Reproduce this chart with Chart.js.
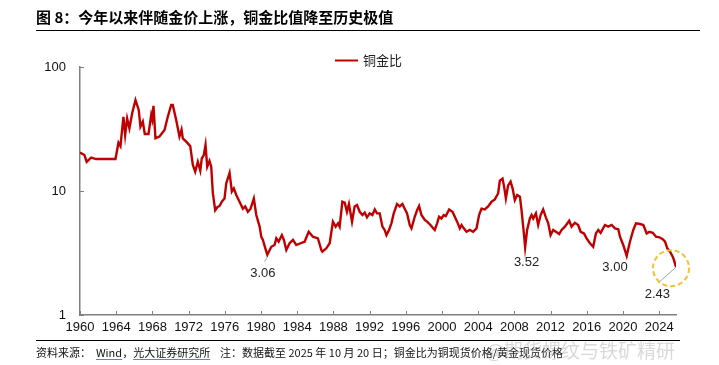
<!DOCTYPE html>
<html><head><meta charset="utf-8">
<script src="https://cdn.jsdelivr.net/npm/chart.js@4.4.0/dist/chart.umd.min.js"></script>
<style>
html,body{margin:0;padding:0;background:#fff;}
#wrap{position:relative;width:719px;height:365px;overflow:hidden;font-family:"Noto Sans CJK SC",sans-serif;}
#c{position:absolute;left:0;top:0;}
#title{position:absolute;left:36px;top:7px;font-size:15px;font-weight:bold;color:#000;white-space:nowrap;line-height:20px;}
#tline{position:absolute;left:36px;top:30px;width:664px;height:0;border-top:1.5px solid #000;}
#fline{position:absolute;left:36px;top:340px;width:644px;height:0;border-top:1px solid #000;}
#foot{position:absolute;left:36px;top:344px;font-size:11px;color:#111;white-space:nowrap;line-height:16px;}
.u{text-decoration:underline;text-decoration-color:#2f9fc0;text-underline-offset:2px;}
#wm{position:absolute;left:486px;top:336px;font-size:19px;color:rgba(160,160,160,0.4);white-space:nowrap;}
</style></head>
<body>
<div id="wrap">
<canvas id="c" width="719" height="365"></canvas>
<div id="title">图 8：今年以来伴随金价上涨，铜金比值降至历史极值</div>
<div id="tline"></div>
<div id="fline"></div>
<div id="foot">资料来源：&nbsp;&nbsp;<span class="u">Wind</span>，<span class="u">光大证券研究所</span>&nbsp;&nbsp;&nbsp;&nbsp;注：数据截至 2025 年 10 月 20 日；铜金比为铜现货价格/黄金现货价格</div>
<div id="wm">@期货螺纹与铁矿精研</div>
</div>
<script>
const seriesName = '铜金比';
const years = [1960.0,1960.49,1960.74,1961.23,1961.78,1963.92,1964.25,1964.47,1964.8,1964.99,1965.21,1965.46,1965.76,1966.13,1966.49,1966.68,1966.94,1967.16,1967.57,1967.87,1967.98,1968.12,1968.34,1968.78,1969.34,1969.7,1970.08,1970.25,1970.63,1970.99,1971.22,1971.36,1971.74,1972.18,1972.47,1972.73,1973.02,1973.29,1973.46,1973.68,1973.87,1974.06,1974.31,1974.5,1974.68,1974.94,1975.17,1975.42,1975.67,1975.97,1976.16,1976.53,1976.78,1977.0,1977.27,1977.63,1978.0,1978.26,1978.55,1978.85,1979.21,1979.48,1979.85,1980.03,1980.21,1980.48,1980.7,1981.14,1981.5,1981.69,1981.95,1982.31,1982.53,1982.8,1983.16,1983.53,1983.9,1984.38,1984.82,1985.27,1985.74,1986.29,1986.67,1986.78,1987.22,1987.59,1987.95,1988.25,1988.51,1988.69,1988.99,1989.25,1989.5,1989.72,1990.06,1990.35,1990.61,1990.91,1991.21,1991.46,1991.71,1992.01,1992.31,1992.57,1992.82,1993.12,1993.42,1993.67,1993.86,1994.15,1994.41,1994.67,1995.03,1995.33,1995.63,1995.88,1996.14,1996.44,1996.63,1996.99,1997.25,1997.47,1997.73,1998.1,1998.35,1998.73,1999.02,1999.2,1999.46,1999.68,1999.94,2000.2,2000.42,2000.79,2001.16,2001.42,2001.67,2001.97,2002.16,2002.41,2002.71,2003.07,2003.44,2003.82,2004.1,2004.37,2004.73,2005.1,2005.48,2005.84,2006.21,2006.39,2006.69,2006.87,2007.06,2007.31,2007.58,2007.8,2008.05,2008.31,2008.61,2008.79,2009.05,2009.19,2009.41,2009.71,2009.9,2010.08,2010.38,2010.63,2010.9,2011.18,2011.48,2011.74,2012.0,2012.29,2012.59,2012.95,2013.22,2013.58,2014.06,2014.32,2014.69,2015.05,2015.32,2015.69,2015.98,2016.35,2016.71,2017.01,2017.27,2017.53,2018.01,2018.37,2018.75,2019.12,2019.48,2019.67,2020.03,2020.41,2020.77,2021.14,2021.44,2021.88,2022.25,2022.62,2022.91,2023.29,2023.65,2024.02,2024.39,2024.65,2024.9,2025.2,2025.5,2025.64,2025.86];
const ratio = [20.4,19.5,17.2,18.6,18.1,18.1,24.5,23,39.7,28.3,38.5,32,42.2,54.2,45,33,36.3,28.8,28.8,41,37.9,48.6,26.6,27.5,31,39.7,49.5,49.5,37.4,27.5,31.3,26.6,25,23,16.2,14.3,17.2,14.6,18.3,19.5,23.5,15.7,17.5,15.7,9.6,7.0,7.4,7.57,8.2,8.7,11.5,14.0,9.9,10.5,9.3,8.2,7.2,7.5,6.8,7.2,8.7,6.4,5.16,4.28,4.03,3.45,3.06,3.55,3.67,4.15,3.9,4.41,4.03,3.34,3.79,4.03,3.67,3.79,3.9,4.69,4.28,4.15,3.34,3.24,3.45,3.79,5.66,5.16,5.49,5.16,8.2,8.05,6.8,7.85,5.66,7.5,7.7,6.8,6.4,6.7,6.13,6.6,6.4,7.1,6.6,6.6,5.16,4.85,4.41,4.85,5.49,6.6,7.85,7.5,7.85,7.2,6.6,5.32,5.0,6.2,7.0,7.57,6.4,5.85,5.66,5.32,5.0,4.85,5.49,6.2,6.0,6.4,6.27,7.1,6.8,6.2,5.66,5.0,5.32,5.0,4.69,4.85,4.69,5.0,6.4,7.2,7.1,7.5,8.2,8.55,9.6,12.1,12.6,10.8,8.7,11.1,11.9,10.5,8.45,9.3,9.0,7.0,4.55,3.52,4.85,6.0,6.4,6.0,6.6,5.32,6.4,7.1,6.13,5.49,4.41,4.85,4.69,4.5,4.85,5.16,5.76,5.16,5.54,5.32,4.69,4.55,4.15,3.79,3.55,4.55,4.85,4.6,5.32,5.16,5.32,5.0,4.91,4.28,3.67,3.00,3.9,4.85,5.49,5.42,5.32,4.55,4.69,4.6,4.28,4.23,4.08,3.9,3.45,3.24,2.95,2.77,2.43];
const tickYears = [1960,1964,1968,1972,1976,1980,1984,1988,1992,1996,2000,2004,2008,2012,2016,2020,2024];
const yTicks = [1,10,100];
const annYears = [1980.7,2009.19,2020.41,2025.86];
const annValues = [3.06,3.52,3.00,2.43];
const annLabels = ['3.06','3.52','3.00','2.43'];

const RED = '#C00000';
const AXIS = '#808080';
const LBL_FONT = {family:'"Liberation Sans", Arial, sans-serif', size:13};

const decor = {
  id:'decor',
  afterDraw(chart){
    const ctx = chart.ctx, xs = chart.scales.x, ys = chart.scales.y, ca = chart.chartArea;
    ctx.save();
    ctx.strokeStyle = AXIS; ctx.lineWidth = 1;
    xs.ticks.forEach(t=>{const px=Math.round(xs.getPixelForValue(t.value))+0.5;ctx.beginPath();ctx.moveTo(px,ca.bottom);ctx.lineTo(px,ca.bottom-4);ctx.stroke();});
    ys.ticks.forEach(t=>{const py=Math.round(ys.getPixelForValue(t.value))+0.5;ctx.beginPath();ctx.moveTo(ca.left,py);ctx.lineTo(ca.left+4,py);ctx.stroke();});
    ctx.strokeStyle = RED; ctx.lineWidth = 2;
    ctx.beginPath(); ctx.moveTo(335,60.5); ctx.lineTo(358,60.5); ctx.stroke();
    ctx.fillStyle = '#222'; ctx.font = '13px "Noto Sans CJK SC", sans-serif';
    ctx.textBaseline = 'middle'; ctx.textAlign = 'left';
    ctx.fillText(seriesName, 363, 60);
    const off = [{dx:-4.4,dy:18.5,lead:[[-2.7,6.9],[0,2.5]]},{dx:1.4,dy:14.7},{dx:-11.7,dy:11.3},{dx:-18.7,dy:27.7,lead:[[-18,16],[0,0]]}];
    ctx.font = '13px "Liberation Sans", Arial, sans-serif';
    ctx.textAlign = 'center';
    annYears.forEach((yr,i)=>{
      const px = xs.getPixelForValue(yr), py = ys.getPixelForValue(annValues[i]);
      const o = off[i];
      if (o.lead){
        ctx.strokeStyle = '#8fa8c8'; ctx.lineWidth = 1;
        ctx.beginPath(); ctx.moveTo(px+o.lead[0][0],py+o.lead[0][1]); ctx.lineTo(px+o.lead[1][0],py+o.lead[1][1]); ctx.stroke();
      }
      ctx.fillStyle = '#222';
      ctx.fillText(annLabels[i], px+o.dx, py+o.dy);
    });
    const lx = xs.getPixelForValue(annYears[3]), ly = ys.getPixelForValue(annValues[3]);
    ctx.strokeStyle = '#F2C230'; ctx.lineWidth = 2; ctx.setLineDash([5,3]);
    ctx.beginPath(); ctx.arc(lx-5, ly+1, 18, 0, Math.PI*2); ctx.stroke();
    ctx.restore();
  }
};

new Chart(document.getElementById('c'), {
  type:'line',
  data:{datasets:[{label:seriesName,data:years.map((x,i)=>({x:x,y:ratio[i]})),borderColor:RED,backgroundColor:RED,borderWidth:2.4,pointRadius:0,tension:0,fill:false}]},
  options:{
    responsive:false, animation:false, devicePixelRatio:1,
    layout:{padding:{left:0,right:43,top:67,bottom:0}},
    plugins:{legend:{display:false},tooltip:{enabled:false}},
    scales:{
      x:{type:'linear',min:1960,max:2025.86,
        afterBuildTicks(s){s.ticks = tickYears.map(v=>({value:v}));},
        afterFit(s){s.height = 50;},
        grid:{display:true,drawOnChartArea:false,drawTicks:false},
        border:{display:true,color:AXIS,width:1.5},
        ticks:{color:'#111',font:LBL_FONT,padding:5,maxRotation:0,autoSkip:false,callback:v=>String(v)}},
      y:{type:'logarithmic',min:1,max:100,
        afterBuildTicks(s){s.ticks = yTicks.map(v=>({value:v}));},
        afterFit(s){s.width = 80;},
        grid:{display:true,drawOnChartArea:false,drawTicks:false},
        border:{display:true,color:AXIS,width:1.5},
        ticks:{color:'#111',font:LBL_FONT,padding:14,callback:v=>String(v)}}
    }
  },
  plugins:[decor]
});
</script>
</body></html>
